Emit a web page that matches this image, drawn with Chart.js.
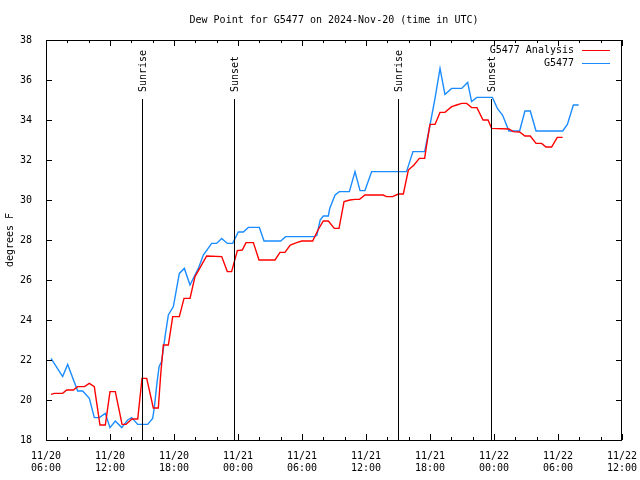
<!DOCTYPE html>
<html>
<head>
<meta charset="utf-8">
<script src="https://cdn.jsdelivr.net/npm/chart.js@4"></script>
<style>
  body { margin: 0; background: #fff; }
</style>
</head>
<body>
<canvas id="dewChart" width="640" height="480"></canvas>
<script>
// hours after 11/20 06:00 UTC
const obsHours = [0.47, 1.56, 2.03, 2.97, 3.44, 4.06, 4.53, 5.0, 5.56, 6.0, 6.5, 7.1, 7.66, 8.03, 8.6, 9.53,
  10.0, 10.15, 10.4, 10.6, 10.84, 11.16, 11.47, 11.94, 12.5, 12.97, 13.5, 14.28, 14.75, 15.53, 16.0, 16.47,
  17.0, 17.5, 18.03, 18.5, 18.97, 20.0, 20.44, 22.0, 22.47, 25.2, 25.4, 25.7, 26.0, 26.47, 26.6, 27.1,
  27.5, 28.44, 28.97, 29.44, 29.9, 30.53, 33.8, 34.4, 35.5, 36.0, 36.47, 36.94, 37.4, 38.03, 38.97, 39.53,
  39.9, 40.4, 41.85, 42.34, 42.8, 43.4, 44.4, 44.9, 45.4, 45.94, 48.44, 48.88, 49.44, 49.94];
const obsDew = [22.08, 21.17, 21.78, 20.45, 20.45, 20.08, 19.12, 19.12, 19.33, 18.62, 18.95, 18.62, 19.0, 19.12, 18.78, 18.78,
  19.08, 19.6, 20.83, 21.67, 21.92, 23.17, 24.25, 24.67, 26.33, 26.58, 25.75, 26.58, 27.25, 27.83, 27.83, 28.08,
  27.83, 27.83, 28.4, 28.4, 28.63, 28.63, 27.95, 27.95, 28.17, 28.17, 28.25, 29.0, 29.2, 29.2, 29.58, 30.25,
  30.42, 30.42, 31.42, 30.47, 30.47, 31.42, 31.42, 32.42, 32.42, 33.75, 35.08, 36.58, 35.28, 35.58, 35.58, 35.88,
  34.92, 35.13, 35.13, 34.55, 34.25, 33.45, 33.45, 34.45, 34.45, 33.45, 33.45, 33.78, 34.75, 34.75];

const anaHours = [0.47, 0.78, 1.56, 1.94, 2.56, 2.97, 3.6, 4.06, 4.53, 5.06, 5.56, 6.0, 6.5, 7.13, 7.5, 8.06,
  8.6, 9.0, 9.44, 10.06, 10.53, 10.75, 11.0, 11.47, 11.88, 12.5, 12.94, 13.5, 13.97, 15.06, 16.47, 17.0,
  17.4, 17.94, 18.4, 18.75, 19.44, 19.97, 21.47, 21.94, 22.4, 22.9, 23.5, 23.97, 25.0, 25.5, 26.0, 26.47,
  27.03, 27.47, 27.94, 28.5, 28.97, 29.4, 29.9, 31.6, 31.94, 32.5, 33.03, 33.5, 33.97, 34.5, 35.0, 35.5,
  35.66, 36.0, 36.47, 36.94, 37.4, 38.03, 38.5, 38.97, 39.44, 39.9, 40.4, 40.97, 41.44, 41.78, 43.4, 43.8,
  44.4, 44.9, 45.4, 45.94, 46.47, 46.87, 47.4, 47.93, 48.44];
const anaDew = [20.28, 20.33, 20.33, 20.5, 20.5, 20.67, 20.67, 20.83, 20.67, 18.75, 18.75, 20.42, 20.42, 18.78, 18.78, 19.05,
  19.05, 21.08, 21.08, 19.6, 19.6, 21.25, 22.75, 22.75, 24.17, 24.17, 25.08, 25.08, 26.17, 27.2, 27.17, 26.42,
  26.42, 27.47, 27.5, 27.87, 27.87, 27.0, 27.0, 27.38, 27.38, 27.75, 27.87, 27.95, 27.95, 28.5, 28.95, 28.95,
  28.58, 28.58, 29.92, 30.0, 30.03, 30.03, 30.25, 30.25, 30.17, 30.17, 30.3, 30.3, 31.5, 31.75, 32.08, 32.08,
  32.67, 33.78, 33.78, 34.38, 34.38, 34.67, 34.75, 34.83, 34.83, 34.62, 34.62, 34.0, 34.0, 33.58, 33.55, 33.42,
  33.4, 33.2, 33.2, 32.83, 32.83, 32.65, 32.65, 33.13, 33.13];

const tickDates = ["11/20", "11/20", "11/20", "11/21", "11/21", "11/21", "11/21", "11/22", "11/22", "11/22"];
const tickTimes = ["06:00", "12:00", "18:00", "00:00", "06:00", "12:00", "18:00", "00:00", "06:00", "12:00"];

const sunEvents = ["Sunrise", "Sunset", "Sunrise", "Sunset"];
const sunHours = [9.03, 17.65, 33.03, 41.72];

const FONT = "DejaVu Sans Mono";

function toPoints(xs, ys) {
  return xs.map((x, i) => ({ x: x, y: ys[i] }));
}

// gnuplot style frame, inward ticks, sun lines, title and legend
const gnuplotLook = {
  id: "gnuplotLook",
  beforeDraw(chart) {
    const ctx = chart.ctx;
    ctx.save();
    ctx.fillStyle = "#fff";
    ctx.fillRect(0, 0, chart.width, chart.height);
    ctx.restore();
  },
  afterDatasetsDraw(chart) {
    const ctx = chart.ctx;
    const a = chart.chartArea;
    const xs = chart.scales.x;
    ctx.save();
    ctx.strokeStyle = "#000";
    ctx.lineWidth = 1;
    ctx.fillStyle = "#000";
    ctx.font = "10px " + FONT;
    sunHours.forEach((h, i) => {
      const px = Math.round(xs.getPixelForValue(h)) + 0.5;
      ctx.beginPath();
      ctx.moveTo(px, 99);
      ctx.lineTo(px, a.bottom);
      ctx.stroke();
      ctx.save();
      ctx.translate(px + 1, 92);
      ctx.rotate(-Math.PI / 2);
      ctx.textAlign = "left";
      ctx.textBaseline = "middle";
      ctx.fillText(sunEvents[i], 0, 0);
      ctx.restore();
    });
    ctx.restore();
  },
  afterDraw(chart) {
    const ctx = chart.ctx;
    const a = chart.chartArea;
    const xs = chart.scales.x;
    const ys = chart.scales.y;
    ctx.save();
    ctx.strokeStyle = "#000";
    ctx.lineWidth = 1;
    ctx.strokeRect(a.left + 0.5, a.top + 0.5, a.right - a.left - 1, a.bottom - a.top);

    ctx.beginPath();
    for (let h = 0; h <= 54; h += 2) {
      const px = Math.round(xs.getPixelForValue(h)) + 0.5;
      const len = h % 6 === 0 ? 6 : 3;
      ctx.moveTo(px, a.bottom);
      ctx.lineTo(px, a.bottom - len);
      ctx.moveTo(px, a.top);
      ctx.lineTo(px, a.top + len);
    }
    for (let v = 18; v <= 38; v += 2) {
      const py = Math.round(ys.getPixelForValue(v)) + 0.5;
      ctx.moveTo(a.left, py);
      ctx.lineTo(a.left + 6, py);
      ctx.moveTo(a.right, py);
      ctx.lineTo(a.right - 6, py);
    }
    ctx.stroke();

    ctx.fillStyle = "#000";
    ctx.font = "10px " + FONT;
    ctx.textAlign = "center";
    ctx.textBaseline = "middle";
    ctx.fillText("Dew Point for G5477 on 2024-Nov-20 (time in UTC)", (a.left + a.right) / 2, 20);

    ctx.save();
    ctx.translate(10, (a.top + a.bottom) / 2);
    ctx.rotate(-Math.PI / 2);
    ctx.fillText("degrees F", 0, 0);
    ctx.restore();

    // legend
    ctx.textAlign = "right";
    chart.data.datasets.forEach((ds, i) => {
      const y = 50 + i * 13;
      ctx.fillStyle = "#000";
      ctx.fillText(ds.label, 574, y);
      ctx.strokeStyle = ds.borderColor;
      ctx.beginPath();
      ctx.moveTo(582, y + 0.5);
      ctx.lineTo(610, y + 0.5);
      ctx.stroke();
    });
    ctx.restore();
  }
};

new Chart(document.getElementById("dewChart"), {
  type: "line",
  data: {
    datasets: [
      {
        label: "G5477 Analysis",
        data: toPoints(anaHours, anaDew),
        borderColor: "#ff0000",
        borderWidth: 1.4,
        pointRadius: 0,
        tension: 0
      },
      {
        label: "G5477",
        data: toPoints(obsHours, obsDew),
        borderColor: "#1a8cff",
        borderWidth: 1.4,
        pointRadius: 0,
        tension: 0
      }
    ]
  },
  options: {
    responsive: false,
    animation: false,
    devicePixelRatio: 1,
    layout: { padding: { top: 40, right: 18, left: 0, bottom: 0 } },
    plugins: {
      legend: { display: false },
      title: { display: false },
      tooltip: { enabled: false }
    },
    scales: {
      x: {
        type: "linear",
        min: 0,
        max: 54,
        grid: { display: false },
        border: { display: false },
        afterFit: s => {
          s.height = 40;
          s.paddingLeft = 0;
          s.paddingRight = 0;
        },
        ticks: {
          stepSize: 6,
          autoSkip: false,
          maxRotation: 0,
          padding: 2,
          color: "#000",
          font: { family: FONT, size: 10, lineHeight: 1.2 },
          callback: v => [tickDates[v / 6], tickTimes[v / 6]]
        }
      },
      y: {
        min: 18,
        max: 38,
        grid: { display: false },
        border: { display: false },
        afterFit: s => {
          s.width = 46;
          s.paddingTop = 0;
          s.paddingBottom = 0;
        },
        ticks: {
          stepSize: 2,
          padding: 6,
          color: "#000",
          font: { family: FONT, size: 10 }
        }
      }
    }
  },
  plugins: [gnuplotLook]
});
</script>
</body>
</html>
